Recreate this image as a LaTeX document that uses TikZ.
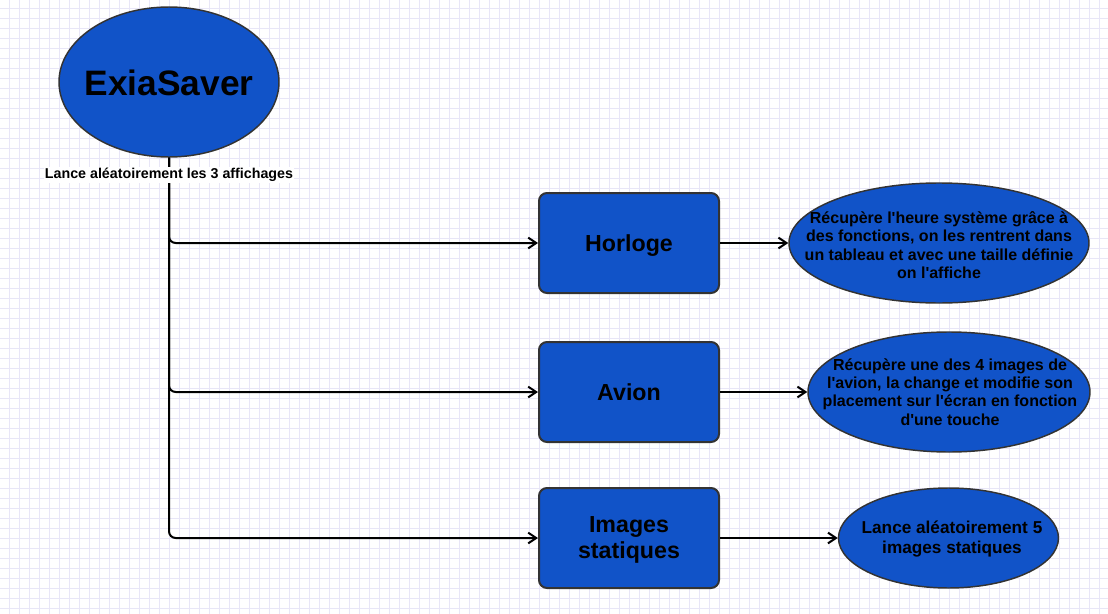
\documentclass[tikz,border=0pt]{standalone}
\usepackage{fontspec}
\setmainfont{Liberation Sans}[Ligatures=TeXOff]
\usepackage{tikz}
\usetikzlibrary{arrows.meta, positioning, shapes.geometric}

\definecolor{exiablue}{RGB}{17,83,200}
\definecolor{edgegray}{RGB}{51,51,51}
\definecolor{gridlav}{RGB}{232,230,247}

\begin{document}
\begin{tikzpicture}[x=0.75pt, y=-0.75pt, every node/.style={font=\bfseries},
    bluebox/.style={draw=edgegray, line width=1.5pt, fill=exiablue, rounded corners=6pt,
        minimum width=135pt, minimum height=75pt, inner sep=0pt, align=center, text depth=0pt,
        font=\fontsize{17.4}{19.5}\selectfont\bfseries},
    blueell/.style={ellipse, draw=edgegray, line width=1.1pt, fill=exiablue, inner sep=0pt},
    desc/.style={align=center, font=\fontsize{12}{13.7}\selectfont\bfseries},
    link/.style={line width=1.5pt, -{Straight Barb[length=6pt,width=8pt]}}]
    \useasboundingbox (0,0) rectangle (1108,614);
    % background grid
    \fill[white] (0,0) rectangle (1108,614);
    \foreach \gx in {9,19,...,1108} \draw[gridlav, line width=0.75pt] (\gx,0) -- (\gx,614);
    \foreach \gy in {8,18,...,614} \draw[gridlav, line width=0.75pt] (0,\gy) -- (1108,\gy);

    % main program
    \node[blueell, minimum width=165pt, minimum height=112.5pt] (saver) at (169,82) {};
    \node[text depth=0pt, font=\fontsize{26.5}{30}\selectfont\bfseries] (savertext) at (169,83) {ExiaSaver};

    % the three displays
    \node[bluebox] (horloge) at (629,243) {Horloge};
    \node[bluebox] (avion) at (629,392) {Avion};
    \node[bluebox] (images) at (629,538) {Images\\statiques};

    % descriptions
    \node[blueell, minimum width=225pt, minimum height=90pt] (horlogedesc) at (939,243) {};
    \node[desc] (horlogetext) at (939,245) {Récupère l'heure système grâce à\\des fonctions, on les rentrent dans\\un tableau et avec une taille définie\\on l'affiche};
    \node[blueell, minimum width=211.5pt, minimum height=90pt] (aviondesc) at (949,392) {};
    \node[desc] (aviontext) at (950,392) {Récupère une des 4 images de\\l'avion, la change et modifie son\\placement sur l'écran en fonction\\d'une touche};
    \node[blueell, minimum width=165pt, minimum height=75pt] (imagesdesc) at (948.5,538) {};
    \node[desc, font=\fontsize{12.9}{15}\selectfont\bfseries] (imagestext) at (952,539) {Lance aléatoirement 5\\images statiques};

    % launch connectors
    \draw[link, rounded corners=5pt] (saver.south) |- (images.west);
    \draw[link, rounded corners=5pt] (saver.south) |- (avion.west);
    \draw[link, rounded corners=5pt] (saver.south) |- (horloge.west);
    \node[fill=white, inner sep=1pt, font=\fontsize{10.7}{12}\selectfont\bfseries] (launch) at (169,175) {Lance aléatoirement les 3 affichages};

    % display to description
    \draw[link] (horloge.east) -- (horlogedesc.west);
    \draw[link] (avion.east) -- (aviondesc.west);
    \draw[link] (images.east) -- (imagesdesc.west);
\end{tikzpicture}
\end{document}
